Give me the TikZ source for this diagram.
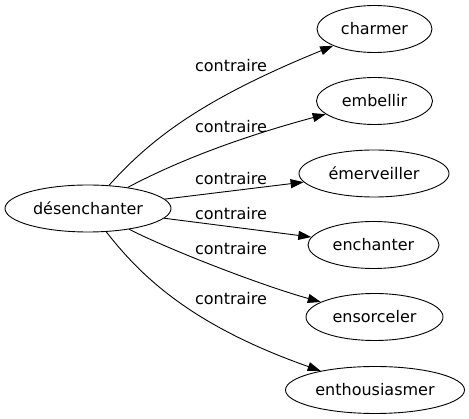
\documentclass[tikz,border=0pt]{standalone}
\usepackage{fontspec}
\setmainfont{DejaVu Sans}
\usetikzlibrary{shapes.geometric,arrows.meta}
\begin{document}
\begin{tikzpicture}[x=1pt,y=-1pt,
  word/.style={ellipse,draw=black,line width=0.9pt,inner sep=0pt,minimum height=47pt,font=\fontsize{16}{18}\selectfont,text=black},
  rel/.style={anchor=base,font=\fontsize{16}{18}\selectfont,text=black,inner sep=0pt},
  link/.style={draw=black,line width=0.9pt,-{Triangle[length=13pt,width=9pt]}}]
\useasboundingbox (0,0) rectangle (469,419);
\node[word,minimum width=166pt] (s) at (88,208.5) {désenchanter};
\node[word,minimum width=115pt] (t1) at (374.5,29) {charmer};
\node[word,minimum width=116pt] (t2) at (374.5,101) {embellir};
\node[word,minimum width=150pt] (t3) at (374,173.5) {émerveiller};
\node[word,minimum width=131pt] (t4) at (373.5,245) {enchanter};
\node[word,minimum width=137pt] (t5) at (374.5,317) {ensorceler};
\node[word,minimum width=179pt] (t6) at (375,390) {enthousiasmer};
\node[rel] (l1) at (231,72) {contraire};
\node[rel] (l2) at (231,133) {contraire};
\node[rel] (l3) at (231,184.5) {contraire};
\node[rel] (l4) at (231,219.3) {contraire};
\node[rel] (l5) at (231,254.5) {contraire};
\node[rel] (l6) at (231,305) {contraire};
\draw[link] (s) .. controls (150,140) and (200,100) .. (t1);
\draw[link] (s) .. controls (170,165) and (230,140) .. (t2);
\draw[link] (s) -- (t3);
\draw[link] (s) -- (t4);
\draw[link] (s) .. controls (170,250) and (260,285) .. (t5);
\draw[link] (s) .. controls (140,275) and (190,325) .. (t6);
\end{tikzpicture}
\end{document}
